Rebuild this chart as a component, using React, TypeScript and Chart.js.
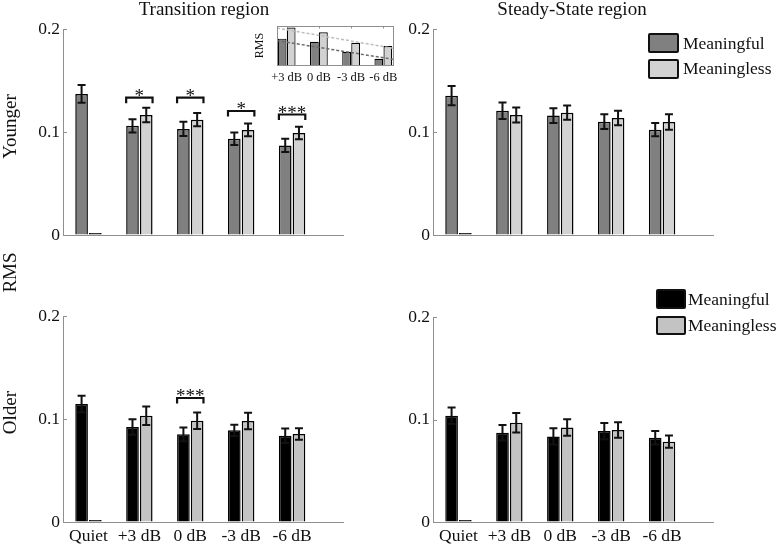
import React, { useEffect, useRef } from 'react';
import { Chart, registerables } from 'chart.js';

Chart.register(...registerables);

// ---------------- data ----------------
const categories = ['Quiet', '+3 dB', '0 dB', '-3 dB', '-6 dB'];
const catPositions = [1, 2, 3, 4, 5];
const yTicks = [0, 0.1, 0.2];

// Younger, Transition region
const youngTransM = [0.137, 0.106, 0.103, 0.0935, 0.087];
const youngTransMErr = [0.0087, 0.0065, 0.007, 0.006, 0.0065];
const youngTransL = [0, 0.1165, 0.112, 0.102, 0.099];
const youngTransLErr = [null, 0.007, 0.0065, 0.0062, 0.006];
const youngTransSigY = [null, 0.1333, 0.1333, 0.1204, 0.117];
const youngTransSig = ['', '*', '*', '*', '***'];

// Younger, Steady-State region
const youngSteadyM = [0.1353, 0.1207, 0.1159, 0.11, 0.1023];
const youngSteadyMErr = [0.0093, 0.008, 0.0072, 0.0072, 0.0065];
const youngSteadyL = [0, 0.1165, 0.1188, 0.1136, 0.1097];
const youngSteadyLErr = [null, 0.0073, 0.007, 0.007, 0.0076];

// Older, Transition region
const oldTransM = [0.1146, 0.0922, 0.0851, 0.089, 0.0838];
const oldTransMErr = [0.008, 0.0075, 0.0067, 0.0055, 0.007];
const oldTransL = [0, 0.1032, 0.0984, 0.0981, 0.0854];
const oldTransLErr = [null, 0.009, 0.008, 0.008, 0.0055];
const oldTransSigY = [null, null, 0.1204, null, null];
const oldTransSig = ['', '', '***', '', ''];

// Older, Steady-State region
const oldSteadyM = [0.1036, 0.0871, 0.0835, 0.0887, 0.0822];
const oldSteadyMErr = [0.008, 0.0075, 0.008, 0.008, 0.0067];
const oldSteadyL = [0, 0.0968, 0.0922, 0.0897, 0.0784];
const oldSteadyLErr = [null, 0.0095, 0.008, 0.0076, 0.006];

// Inset (Younger, Transition region, zoomed)
const insetCategories = ['+3 dB', '0 dB', '-3 dB', '-6 dB'];
const insetPositions = [1, 2, 3, 4];
const insetM = [0.106, 0.103, 0.0935, 0.087];
const insetL = [0.1165, 0.112, 0.102, 0.099];
const insetTrendX = [0.7, 4.3];
const insetTrendM = [0.1041, 0.0864];
const insetTrendL = [0.116, 0.0969];

// ---------------- style ----------------
const W = 777;
const H = 544;
const FONT = '"Liberation Serif", "Times New Roman", serif';
const AXIS_COLOR = '#8f8f8f';
const TEXT_COLOR = '#111';
const Y_AXIS_W = 40;
const YOUNG_M = '#808080';
const YOUNG_L = '#d2d2d2';
const OLD_M = '#000000';
const OLD_L = '#c3c3c3';
const ZERO_BAR = '#1a1a1a';

type Area = { left: number; right: number; top: number; bottom: number };

function makeErrorBarPlugin() {
  return {
    id: 'errorBars',
    afterDatasetsDraw(chart: any) {
      const ctx = chart.ctx;
      const yScale = chart.scales.y;
      chart.data.datasets.forEach((ds: any, i: number) => {
        const errs = ds.errors;
        if (!errs) return;
        const meta = chart.getDatasetMeta(i);
        meta.data.forEach((el: any, j: number) => {
          const e = errs[j];
          if (e == null) return;
          const v = ds.data[j].y;
          const yTop = yScale.getPixelForValue(v + e);
          const yBot = yScale.getPixelForValue(v - e);
          const x = el.x;
          ctx.save();
          ctx.strokeStyle = TEXT_COLOR;
          ctx.lineWidth = 2;
          ctx.beginPath();
          ctx.moveTo(x, yTop);
          ctx.lineTo(x, yBot);
          ctx.moveTo(x - 4, yTop);
          ctx.lineTo(x + 4, yTop);
          ctx.moveTo(x - 4, yBot);
          ctx.lineTo(x + 4, yBot);
          ctx.stroke();
          ctx.restore();
        });
      });
    },
  };
}

function makeSigPlugin(ys: (number | null)[] | undefined, labels: string[] | undefined) {
  return {
    id: 'sigBrackets',
    afterDatasetsDraw(chart: any) {
      if (!ys || !labels) return;
      const ctx = chart.ctx;
      const yScale = chart.scales.y;
      const m0 = chart.getDatasetMeta(0);
      const m1 = chart.getDatasetMeta(1);
      ys.forEach((yv, j) => {
        if (yv == null) return;
        const a = m0.data[j];
        const b = m1.data[j];
        const left = a.x - a.width / 2;
        const right = b.x + b.width / 2;
        const yp = yScale.getPixelForValue(yv);
        ctx.save();
        ctx.strokeStyle = TEXT_COLOR;
        ctx.lineWidth = 2.2;
        ctx.beginPath();
        ctx.moveTo(left, yp + 5.5);
        ctx.lineTo(left, yp);
        ctx.lineTo(right, yp);
        ctx.lineTo(right, yp + 5.5);
        ctx.stroke();
        ctx.font = `19px ${FONT}`;
        ctx.fillStyle = TEXT_COLOR;
        ctx.textAlign = 'center';
        ctx.textBaseline = 'alphabetic';
        const txt = labels[j];
        const mt = ctx.measureText(txt);
        const base = yp - 1.5 - mt.actualBoundingBoxDescent;
        ctx.fillText(txt, (left + right) / 2, base);
        ctx.restore();
      });
    },
  };
}

function makeInwardTickPlugin(values: number[]) {
  return {
    id: 'inwardTicks',
    afterDraw(chart: any) {
      const ctx = chart.ctx;
      const yScale = chart.scales.y;
      const left = chart.chartArea.left;
      ctx.save();
      ctx.strokeStyle = AXIS_COLOR;
      ctx.lineWidth = 1;
      values.forEach((v) => {
        const y = Math.round(yScale.getPixelForValue(v)) + 0.5;
        ctx.beginPath();
        ctx.moveTo(left, y);
        ctx.lineTo(left + 4, y);
        ctx.stroke();
      });
      ctx.restore();
    },
  };
}

type PanelProps = {
  area: Area;
  m: number[];
  mErr: (number | null)[];
  l: number[];
  lErr: (number | null)[];
  colorM: string;
  colorL: string;
  showX: boolean;
  sigY?: (number | null)[];
  sig?: string[];
};

function BarPanel(props: PanelProps) {
  const ref = useRef<HTMLCanvasElement>(null);
  useEffect(() => {
    const { area, m, mErr, l, lErr, colorM, colorL, showX, sigY, sig } = props;
    const xh = showX ? 22 : 0;
    const tickFont = { family: FONT, size: 17.5 };
    const chart = new Chart(ref.current as HTMLCanvasElement, {
      type: 'bar',
      data: {
        datasets: [
          {
            label: 'Meaningful',
            data: catPositions.map((x, i) => ({ x, y: m[i] })),
            backgroundColor: colorM,
            borderColor: '#000',
            borderWidth: 1.5,
            borderSkipped: 'bottom',
            categoryPercentage: 0.54,
            barPercentage: 0.92,
            errors: mErr,
          } as any,
          {
            label: 'Meaningless',
            data: catPositions.map((x, i) => ({ x, y: l[i] })),
            backgroundColor: (c: any) => (l[c.dataIndex] === 0 ? ZERO_BAR : colorL),
            borderColor: '#000',
            borderWidth: 1.5,
            borderSkipped: 'bottom',
            minBarLength: 2,
            categoryPercentage: 0.54,
            barPercentage: 0.92,
            errors: lErr,
          } as any,
        ],
      },
      options: {
        responsive: false,
        animation: false,
        events: [],
        layout: {
          padding: {
            left: area.left - Y_AXIS_W,
            right: W - area.right,
            top: area.top,
            bottom: H - area.bottom - xh,
          },
        },
        plugins: { legend: { display: false }, tooltip: { enabled: false } },
        scales: {
          x: {
            type: 'linear',
            min: 0.5,
            max: 6,
            offset: false,
            grid: { display: true, drawOnChartArea: false, drawTicks: false, offset: false },
            border: { display: true, color: AXIS_COLOR, width: 1 },
            ticks: {
              display: showX,
              padding: 4,
              autoSkip: false,
              maxRotation: 0,
              minRotation: 0,
              color: TEXT_COLOR,
              font: tickFont,
              callback: (v: any) => categories[Number(v) - 1] ?? '',
            },
            afterBuildTicks: (s: any) => {
              s.ticks = catPositions.map((v) => ({ value: v }));
            },
            afterFit: (s: any) => {
              s.height = xh;
            },
          } as any,
          y: {
            type: 'linear',
            min: 0,
            max: 0.2,
            grid: { display: true, drawOnChartArea: false, drawTicks: false },
            border: { display: true, color: AXIS_COLOR, width: 1 },
            ticks: {
              padding: 3,
              color: TEXT_COLOR,
              font: tickFont,
              callback: (v: any) => (Number(v) === 0 ? '0' : Number(v).toFixed(1)),
            },
            afterBuildTicks: (s: any) => {
              s.ticks = yTicks.map((v) => ({ value: v }));
            },
            afterFit: (s: any) => {
              s.width = Y_AXIS_W;
            },
          } as any,
        },
      },
      plugins: [makeErrorBarPlugin(), makeSigPlugin(sigY, sig), makeInwardTickPlugin(yTicks)],
    } as any);
    return () => chart.destroy();
  }, []);
  return <canvas ref={ref} width={W} height={H} style={{ position: 'absolute', left: 0, top: 0 }} />;
}

function makeBoxPlugin() {
  return {
    id: 'insetBox',
    afterDraw(chart: any) {
      const ctx = chart.ctx;
      const { left, right, top, bottom } = chart.chartArea;
      const xScale = chart.scales.x;
      ctx.save();
      ctx.strokeStyle = AXIS_COLOR;
      ctx.lineWidth = 1;
      ctx.strokeRect(Math.round(left) + 0.5, Math.round(top) + 0.5, Math.round(right - left), Math.round(bottom - top));
      insetPositions.forEach((p) => {
        const x = Math.round(xScale.getPixelForValue(p)) + 0.5;
        ctx.beginPath();
        ctx.moveTo(x, top);
        ctx.lineTo(x, top + 2.5);
        ctx.stroke();
      });
      ctx.restore();
    },
  };
}

function InsetChart() {
  const ref = useRef<HTMLCanvasElement>(null);
  useEffect(() => {
    const area = { left: 277, right: 393, top: 26, bottom: 65 };
    const xh = 24;
    const yw = 24;
    const chart = new Chart(ref.current as HTMLCanvasElement, {
      type: 'bar',
      data: {
        datasets: [
          {
            type: 'line',
            data: insetTrendX.map((x, i) => ({ x, y: insetTrendL[i] })),
            borderColor: '#bdbdbd',
            borderWidth: 1.5,
            borderDash: [3, 2],
            pointRadius: 0,
            order: 0,
          },
          {
            type: 'line',
            data: insetTrendX.map((x, i) => ({ x, y: insetTrendM[i] })),
            borderColor: '#6a6a6a',
            borderWidth: 1.5,
            borderDash: [3, 2],
            pointRadius: 0,
            order: 0,
          },
          {
            label: 'Meaningful',
            data: insetPositions.map((x, i) => ({ x, y: insetM[i] })),
            backgroundColor: YOUNG_M,
            borderColor: '#000',
            borderWidth: 1.2,
            borderSkipped: 'bottom',
            categoryPercentage: 0.56,
            barPercentage: 0.97,
            order: 1,
          },
          {
            label: 'Meaningless',
            data: insetPositions.map((x, i) => ({ x, y: insetL[i] })),
            backgroundColor: YOUNG_L,
            borderColor: '#000',
            borderWidth: 1.2,
            borderSkipped: 'bottom',
            categoryPercentage: 0.56,
            barPercentage: 0.97,
            order: 1,
          },
        ],
      } as any,
      options: {
        responsive: false,
        animation: false,
        events: [],
        layout: {
          padding: {
            left: area.left - yw,
            right: W - area.right,
            top: area.top,
            bottom: H - area.bottom - xh,
          },
        },
        plugins: { legend: { display: false }, tooltip: { enabled: false } },
        scales: {
          x: {
            type: 'linear',
            min: 0.7,
            max: 4.3,
            offset: false,
            grid: { display: false, drawTicks: false, offset: false },
            border: { display: false },
            ticks: {
              padding: 5,
              autoSkip: false,
              maxRotation: 0,
              minRotation: 0,
              color: TEXT_COLOR,
              font: { family: FONT, size: 12.5 },
              callback: (v: any) => insetCategories[Number(v) - 1] ?? '',
            },
            afterBuildTicks: (s: any) => {
              s.ticks = insetPositions.map((v) => ({ value: v }));
            },
            afterFit: (s: any) => {
              s.height = xh;
            },
          } as any,
          y: {
            type: 'linear',
            min: 0.081,
            max: 0.118,
            grid: { display: false, drawTicks: false },
            border: { display: false },
            ticks: { display: false },
            title: {
              display: true,
              text: 'RMS',
              color: TEXT_COLOR,
              padding: 0,
              font: { family: FONT, size: 12 },
            },
            afterFit: (s: any) => {
              s.width = yw;
            },
          } as any,
        },
      },
      plugins: [makeBoxPlugin()],
    } as any);
    return () => chart.destroy();
  }, []);
  return <canvas ref={ref} width={W} height={H} style={{ position: 'absolute', left: 0, top: 0 }} />;
}

function Title({ text, cx }: { text: string; cx: number }) {
  return (
    <div
      style={{
        position: 'absolute',
        left: cx - 150,
        top: -1.4,
        width: 300,
        textAlign: 'center',
        fontFamily: FONT,
        fontSize: 19,
        lineHeight: '19px',
        color: TEXT_COLOR,
        whiteSpace: 'nowrap',
      }}
    >
      {text}
    </div>
  );
}

function YLabel({ text, cx, cy }: { text: string; cx: number; cy: number }) {
  return (
    <div
      style={{
        position: 'absolute',
        left: cx - 100,
        top: cy - 9.5,
        width: 200,
        height: 19,
        textAlign: 'center',
        fontFamily: FONT,
        fontSize: 19,
        lineHeight: '19px',
        color: TEXT_COLOR,
        whiteSpace: 'nowrap',
        transform: 'rotate(-90deg)',
        transformOrigin: '50% 50%',
      }}
    >
      {text}
    </div>
  );
}

function LegendItem({
  color,
  label,
  boxLeft,
  boxTop,
  boxW,
  boxH,
  textLeft,
  baseline,
}: {
  color: string;
  label: string;
  boxLeft: number;
  boxTop: number;
  boxW: number;
  boxH: number;
  textLeft: number;
  baseline: number;
}) {
  return (
    <>
      <div
        style={{
          position: 'absolute',
          left: boxLeft,
          top: boxTop,
          width: boxW,
          height: boxH,
          background: color,
          border: '2px solid #111',
          borderRadius: 2,
          boxSizing: 'border-box',
        }}
      />
      <div
        style={{
          position: 'absolute',
          left: textLeft,
          top: baseline - 14.65,
          fontFamily: FONT,
          fontSize: 17.5,
          lineHeight: '17.5px',
          color: TEXT_COLOR,
          whiteSpace: 'nowrap',
        }}
      >
        {label}
      </div>
    </>
  );
}

export default function App() {
  return (
    <div
      style={{
        position: 'absolute',
        left: 0,
        top: 0,
        width: W,
        height: H,
        overflow: 'hidden',
        background: '#fff',
      }}
    >
      <BarPanel
        area={{ left: 63, right: 343, top: 29, bottom: 235 }}
        m={youngTransM}
        mErr={youngTransMErr}
        l={youngTransL}
        lErr={youngTransLErr}
        colorM={YOUNG_M}
        colorL={YOUNG_L}
        showX={false}
        sigY={youngTransSigY}
        sig={youngTransSig}
      />
      <BarPanel
        area={{ left: 433, right: 713, top: 29, bottom: 235 }}
        m={youngSteadyM}
        mErr={youngSteadyMErr}
        l={youngSteadyL}
        lErr={youngSteadyLErr}
        colorM={YOUNG_M}
        colorL={YOUNG_L}
        showX={false}
      />
      <BarPanel
        area={{ left: 63, right: 343, top: 316, bottom: 522 }}
        m={oldTransM}
        mErr={oldTransMErr}
        l={oldTransL}
        lErr={oldTransLErr}
        colorM={OLD_M}
        colorL={OLD_L}
        showX={true}
        sigY={oldTransSigY}
        sig={oldTransSig}
      />
      <BarPanel
        area={{ left: 433, right: 713, top: 317, bottom: 522 }}
        m={oldSteadyM}
        mErr={oldSteadyMErr}
        l={oldSteadyL}
        lErr={oldSteadyLErr}
        colorM={OLD_M}
        colorL={OLD_L}
        showX={true}
      />
      <InsetChart />

      <Title text="Transition region" cx={204} />
      <Title text="Steady-State region" cx={572} />

      <YLabel text="Younger" cx={8.7} cy={126} />
      <YLabel text="RMS" cx={8.7} cy={272} />
      <YLabel text="Older" cx={8.7} cy={412} />

      <LegendItem color={YOUNG_M} label="Meaningful" boxLeft={648} boxTop={33} boxW={31} boxH={20} textLeft={683} baseline={50} />
      <LegendItem color={YOUNG_L} label="Meaningless" boxLeft={648} boxTop={59} boxW={31} boxH={20} textLeft={683} baseline={75} />

      <LegendItem color={OLD_M} label="Meaningful" boxLeft={656} boxTop={289} boxW={30} boxH={20} textLeft={688} baseline={306} />
      <LegendItem color={OLD_L} label="Meaningless" boxLeft={656} boxTop={316} boxW={30} boxH={19} textLeft={688} baseline={332} />
    </div>
  );
}
